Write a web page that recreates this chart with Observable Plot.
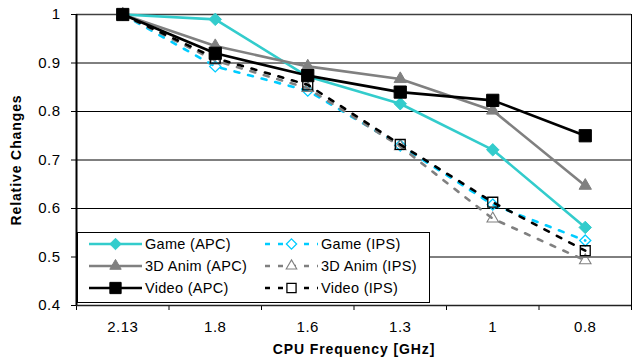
<!DOCTYPE html>
<html><head><meta charset="utf-8">
<script src="https://cdn.jsdelivr.net/npm/d3@7"></script>
<script src="https://cdn.jsdelivr.net/npm/@observablehq/plot@0.6"></script>
<style>
body{margin:0;background:#fff;}
#wrap{position:relative;width:637px;height:360px;font-family:"Liberation Sans",Arial,sans-serif;}
#legend{position:absolute;}
</style></head><body><div id="wrap"></div>
<script>
// ---- data ----
const frequencies = ["2.13", "1.8", "1.6", "1.3", "1", "0.8"];
const gameAPC  = [1.0, 0.990, 0.872, 0.816, 0.721, 0.561];
const gameIPS  = [1.0, 0.893, 0.843, 0.730, 0.608, 0.534];
const animAPC  = [1.0, 0.935, 0.893, 0.867, 0.802, 0.647];
const animIPS  = [1.0, 0.905, 0.848, 0.728, 0.579, 0.493];
const videoAPC = [1.0, 0.920, 0.874, 0.840, 0.823, 0.750];
const videoIPS = [1.0, 0.910, 0.855, 0.732, 0.613, 0.513];
const yTicks = [0.4, 0.5, 0.6, 0.7, 0.8, 0.9, 1];
const seriesNames = ["Game (APC)", "Game (IPS)", "3D Anim (APC)", "3D Anim (IPS)", "Video (APC)", "Video (IPS)"];
const seriesValues = [gameAPC, gameIPS, animAPC, animIPS, videoAPC, videoIPS];
const xLabel = "CPU Frequency [GHz]";
const yLabel = "Relative Changes";

// ---- styles ----
const DASH = "5,9";
const styles = [
  {color: "#33CCCC", dash: null, symbol: "diamond2", fill: "#33CCCC", r: 5.6, sw: 1},
  {color: "#00CCFF", dash: DASH, symbol: "diamond2", fill: "none", r: 5.0, sw: 1.3},
  {color: "#808080", dash: null, symbol: "triangle2", fill: "#808080", r: 5.9, sw: 1},
  {color: "#808080", dash: DASH, symbol: "triangle2", fill: "none", r: 5.5, sw: 1.1},
  {color: "#000000", dash: null, symbol: "square", fill: "#000000", r: 6.9, sw: 1},
  {color: "#000000", dash: DASH, symbol: "square", fill: "none", r: 5.6, sw: 1.3}
];

const rows = seriesNames.flatMap((name, s) =>
  seriesValues[s].map((v, i) => ({series: name, s, i, value: v})));

const n = frequencies.length;
const idx = d3.range(n);
const bounds = d3.range(n + 1).map(k => k - 0.5);
const yMin = d3.min(yTicks), yMax = d3.max(yTicks);

const seriesMarks = seriesNames.flatMap((name, s) => {
  const st = styles[s];
  const data = rows.filter(d => d.s === s);
  return [
    Plot.line(data, {x: "i", y: "value", stroke: st.color, strokeWidth: 2.6,
      strokeDasharray: st.dash || undefined}),
    Plot.dot(data, {x: "i", y: "value", symbol: () => st.symbol, r: st.r,
      fill: st.fill, stroke: st.color, strokeWidth: st.sw})
  ];
});

const chart = Plot.plot({
  width: 637, height: 360,
  marginLeft: 76, marginRight: 6, marginTop: 14, marginBottom: 55,
  style: "font-family:'Liberation Sans',Arial,sans-serif;font-size:14px;letter-spacing:0.5px;background:#fff;overflow:visible;color:#000;",
  x: {type: "linear", domain: [bounds[0], bounds[n]]},
  y: {domain: [yMin, yMax]},
  symbol: {type: "identity"},
  marks: [
    Plot.ruleY(yTicks.filter(v => v > yMin && v < yMax), {stroke: "#000", strokeWidth: 1}),
    Plot.ruleY([yMax], {stroke: "#404040", strokeWidth: 1.6}),
    Plot.ruleX([bounds[n]], {y1: yMin, y2: yMax, stroke: "#000", strokeWidth: 1}),
    ...seriesMarks,
    Plot.axisY({ticks: yTicks, tickSize: 5, tickPadding: 11, fontSize: 15,
      tickFormat: d => String(+d.toFixed(1)),
      label: null}),
    Plot.axisY({ticks: [], tickSize: 0, fontSize: 14,
      label: yLabel, labelAnchor: "center", labelOffset: 65, labelArrow: "none"}),
    Plot.axisX({ticks: idx, tickSize: 0, tickPadding: 16, fontSize: 15,
      tickFormat: i => frequencies[i], label: null}),
    Plot.axisX({ticks: bounds, tickSize: 5, tickFormat: () => "", fontSize: 14,
      label: xLabel, labelAnchor: "center", labelOffset: 48, labelArrow: "none"}),
    Plot.ruleY([yMin], {stroke: "#222", strokeWidth: 1.3}),
    Plot.ruleX([bounds[0]], {y1: yMin, y2: yMax, stroke: "#000", strokeWidth: 2})
  ]
});

d3.select(chart).selectAll('[aria-label="x-axis label"] text, [aria-label="y-axis label"] text')
  .attr("font-weight", "bold").attr("letter-spacing", "0.9px");

const wrap = document.getElementById("wrap");
wrap.appendChild(chart);

// ---- legend (overlaid inside the plot, as in the reference) ----
const lg = d3.select(wrap).append("svg").attr("id", "legend")
  .attr("width", 354).attr("height", 72)
  .style("left", "77px").style("top", "232px");
lg.append("rect").attr("x", 0.5).attr("y", 0.5).attr("width", 352).attr("height", 70)
  .attr("fill", "#fff").attr("stroke", "#000").attr("stroke-width", 1);
const symMap = {diamond2: d3.symbolDiamond2, triangle2: d3.symbolTriangle2, square: d3.symbolSquare};
seriesNames.forEach((name, s) => {
  const st = styles[s];
  const col = s % 2, row = Math.floor(s / 2);
  const x0 = col === 0 ? 12 : 188, x1 = x0 + 53, cy = 12 + row * 22;
  const g = lg.append("g");
  g.append("line").attr("x1", x0).attr("x2", x1).attr("y1", cy).attr("y2", cy)
    .attr("stroke", st.color).attr("stroke-width", 2.6)
    .attr("stroke-dasharray", st.dash ? "5,8" : null);
  g.append("path").attr("transform", `translate(${(x0 + x1) / 2},${cy})`)
    .attr("d", d3.symbol(symMap[st.symbol], Math.PI * st.r * st.r * 0.85)())
    .attr("fill", st.fill === "none" ? "#fff" : st.fill).attr("stroke", st.color).attr("stroke-width", st.sw);
  g.append("text").attr("x", x1 + 3).attr("y", cy).attr("dy", "0.35em")
    .attr("font-family", "'Liberation Sans',Arial,sans-serif").attr("font-size", 14.5)
    .attr("letter-spacing", "0.3px").text(name);
});
</script></body></html>
